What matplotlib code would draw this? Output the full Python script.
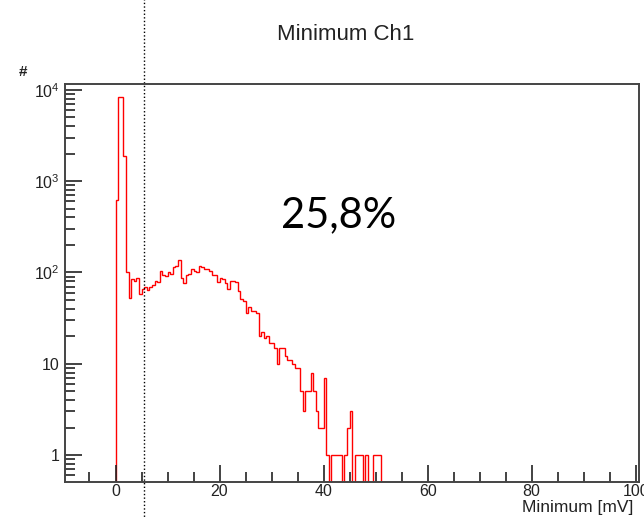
import numpy as np
import matplotlib
matplotlib.use("Agg")
import matplotlib.pyplot as plt
from matplotlib.ticker import FixedLocator, FixedFormatter, MultipleLocator, LogLocator, NullFormatter

plt.rcParams['font.family'] = ['Liberation Sans', 'DejaVu Sans']
plt.rcParams['mathtext.fontset'] = 'custom'
plt.rcParams['mathtext.rm'] = 'Liberation Sans'
plt.rcParams['mathtext.it'] = 'Liberation Sans'

# histogram: 0.5 mV bins from 0 to 51 mV
bin_width = 0.5
counts = [
    620, 8300, 8300, 1900, 100, 52, 84, 80, 88, 58,
    66, 69, 64, 70, 72, 81, 78, 105, 93, 92,
    101, 96, 114, 119, 138, 88, 76, 93, 97, 110,
    104, 100, 119, 116, 110, 108, 105, 93, 93, 78,
    86, 84, 76, 66, 81, 81, 78, 63, 51, 49,
    36, 42, 38, 38, 36, 20, 22, 19, 20, 17,
    17, 15, 10, 15, 15, 12, 11, 11, 10, 9,
    9, 5, 3, 5, 5, 8, 5, 3, 2, 2,
    7, 1, 0, 1, 1, 1, 1, 0, 1, 2,
    3, 0, 1, 1, 1, 0, 1, 0, 0, 1,
    1, 1,
]
edges = np.arange(len(counts) + 1) * bin_width
cut_value = 5.4
title = "Minimum Ch1"
x_label = "Minimum [mV]"
y_label = "#"
annotation = "25,8%"
y_ticks = [1, 10, 100, 1000, 10000]
y_tick_labels = ["1", "10", r"$10^2$", r"$10^3$", r"$10^4$"]

fig = plt.figure(figsize=(6.44, 5.19), dpi=100)
ax = fig.add_axes([0.101, 0.0713, 0.891, 0.767])

ax.stairs(counts, edges, baseline=0, fill=False, color='#ff0000', lw=1.0)
ax.set_yscale('log')
ax.set_xlim(-9.7, 100.6)
ax.set_ylim(0.506, 11630)

# threshold line, runs past the frame like in the original
ax.axvline(cut_value, ymin=-0.1, ymax=1.25, color='black', ls=(0, (1, 1.6)), lw=1.0, clip_on=False)

ax.xaxis.set_major_locator(MultipleLocator(20))
ax.xaxis.set_minor_locator(MultipleLocator(5))
ax.yaxis.set_major_locator(FixedLocator(y_ticks))
ax.yaxis.set_major_formatter(FixedFormatter(y_tick_labels))
ax.yaxis.set_minor_locator(LogLocator(base=10, subs=np.arange(2, 10)))
ax.yaxis.set_minor_formatter(NullFormatter())

ax.tick_params(which='both', direction='in', top=False, right=False, labelsize=11.5, colors='#222222')
ax.tick_params(which='major', length=12, width=1.2)
ax.tick_params(which='minor', length=7, width=1.2)
ax.tick_params(axis='x', pad=1.5)
ax.tick_params(axis='y', pad=4)

for s in ax.spines.values():
    s.set_color('#444444')
    s.set_linewidth(1.4)

fig.text(0.537, 0.933, title, ha='center', va='center', fontsize=16, color='#222222')
fig.text(0.983, 0.022, x_label, ha='right', va='center', fontsize=12.5, color='#222222')
fig.text(0.036, 0.862, y_label, ha='center', va='center', fontsize=11, color='#222222', fontweight='bold')
ax.text(0.477, 0.671, annotation, transform=ax.transAxes, ha='center', va='center',
        fontsize=30, color='black', family=['Lato', 'DejaVu Sans'])

fig.savefig("out.png", dpi=100)
